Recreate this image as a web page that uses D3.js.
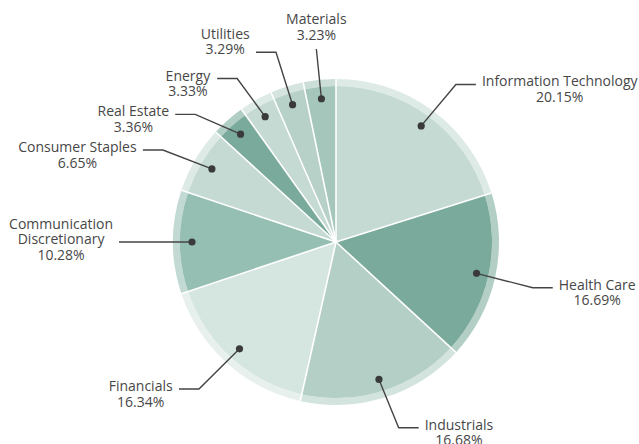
<!DOCTYPE html>
<html>
<head>
<meta charset="utf-8">
<script src="https://cdn.jsdelivr.net/npm/d3@7"></script>
<style>
  body { margin: 0; background: #fff; }
  text { font-family: "Open Sans", Lato, sans-serif; font-size: 14px; fill: #474747; }
</style>
</head>
<body>
<div id="chart"></div>
<script>
const width = 639, height = 444;

// Sector weights (%)
const labels = ["Information Technology", "Health Care", "Industrials", "Financials",
  "Communication\nDiscretionary", "Consumer Staples", "Real Estate", "Energy", "Utilities", "Materials"];
const values = [20.15, 16.69, 16.68, 16.34, 10.28, 6.65, 3.36, 3.33, 3.29, 3.23];
const colors = ["#c5dad3", "#7aaa9b", "#b4cfc5", "#d5e5e0", "#96bfb3",
  "#c5dad3", "#79aa9b", "#c5dad3", "#b7d1c8", "#a5c7bb"];

// label layout tweaks: text line the leader points at (-1 = label above),
// elbow radius and angular nudge (degrees) to spread the small slices
const anchorLine = [0, 0, 0, 0, 1, 0, 0, 0, 1, -1];
const elbowR = [198, 202, 196, 201, 197, 196, 190, 191, 199, 194];
const elbowNudge = [1, 0.5, -1.3, 0.9, 0, -2.5, -6.3, -1.7, 0, 0];

const cx = 336, cy = 242;
const rInner = 156, rOuter = 163, rDot = 144, hLen = 20, gap = 6, lineH = 15.5;

const svg = d3.select("#chart")
  .append("svg")
  .attr("width", width)
  .attr("height", height);

const g = svg.append("g")
  .attr("transform", `translate(${cx},${cy})`);

const pie = d3.pie().sort(null).value(d => d);
const arcs = pie(values);

const arcMain = d3.arc().innerRadius(0).outerRadius(rInner);
const arcRing = d3.arc().innerRadius(rInner).outerRadius(rOuter);
const arcDot = d3.arc().innerRadius(rDot).outerRadius(rDot);

g.selectAll(".slice")
  .data(arcs)
  .enter()
  .append("path")
  .attr("class", "slice")
  .attr("fill", (d, i) => colors[i])
  .attr("d", arcMain);

g.selectAll(".ring")
  .data(arcs)
  .enter()
  .append("path")
  .attr("class", "ring")
  .attr("fill", (d, i) => colors[i])
  .attr("fill-opacity", 0.58)
  .attr("d", arcRing);

// white separators
g.selectAll(".sep")
  .data(arcs)
  .enter()
  .append("line")
  .attr("x1", 0).attr("y1", 0)
  .attr("x2", d => rOuter * Math.sin(d.startAngle))
  .attr("y2", d => -rOuter * Math.cos(d.startAngle))
  .attr("stroke", "#fff")
  .attr("stroke-width", 1.6);

// leaders + labels
arcs.forEach((d, i) => {
  const mid = (d.startAngle + d.endAngle) / 2;
  const a = mid + elbowNudge[i] * Math.PI / 180;
  const dot = arcDot.centroid(d);
  const elbow = [elbowR[i] * Math.sin(a), -elbowR[i] * Math.cos(a)];
  const right = mid < Math.PI;
  const above = anchorLine[i] < 0;
  const end = above ? elbow : [elbow[0] + (right ? hLen : -hLen), elbow[1]];

  g.append("path")
    .attr("d", d3.line()([dot, elbow, end]))
    .attr("fill", "none")
    .attr("stroke", "#444")
    .attr("stroke-width", 1.4);

  g.append("circle")
    .attr("cx", dot[0]).attr("cy", dot[1])
    .attr("r", 3.6)
    .attr("fill", "#3a3a3a");

  const lines = labels[i].split("\n").concat([values[i].toFixed(2) + "%"]);
  const t = g.append("text").attr("text-anchor", "middle");
  lines.forEach((s, k) => {
    t.append("tspan").attr("x", 0).attr("y", k * lineH).text(s);
  });
  const bb = t.node().getBBox();
  let tx, ty;
  if (above) {
    tx = end[0];
    ty = end[1] - 9 - (lines.length - 1) * lineH;
  } else {
    tx = right ? end[0] + gap - bb.x : end[0] - gap - (bb.x + bb.width);
    ty = end[1] + 2 - anchorLine[i] * lineH;
  }
  t.attr("transform", `translate(${tx},${ty})`);
});
</script>
</body>
</html>
